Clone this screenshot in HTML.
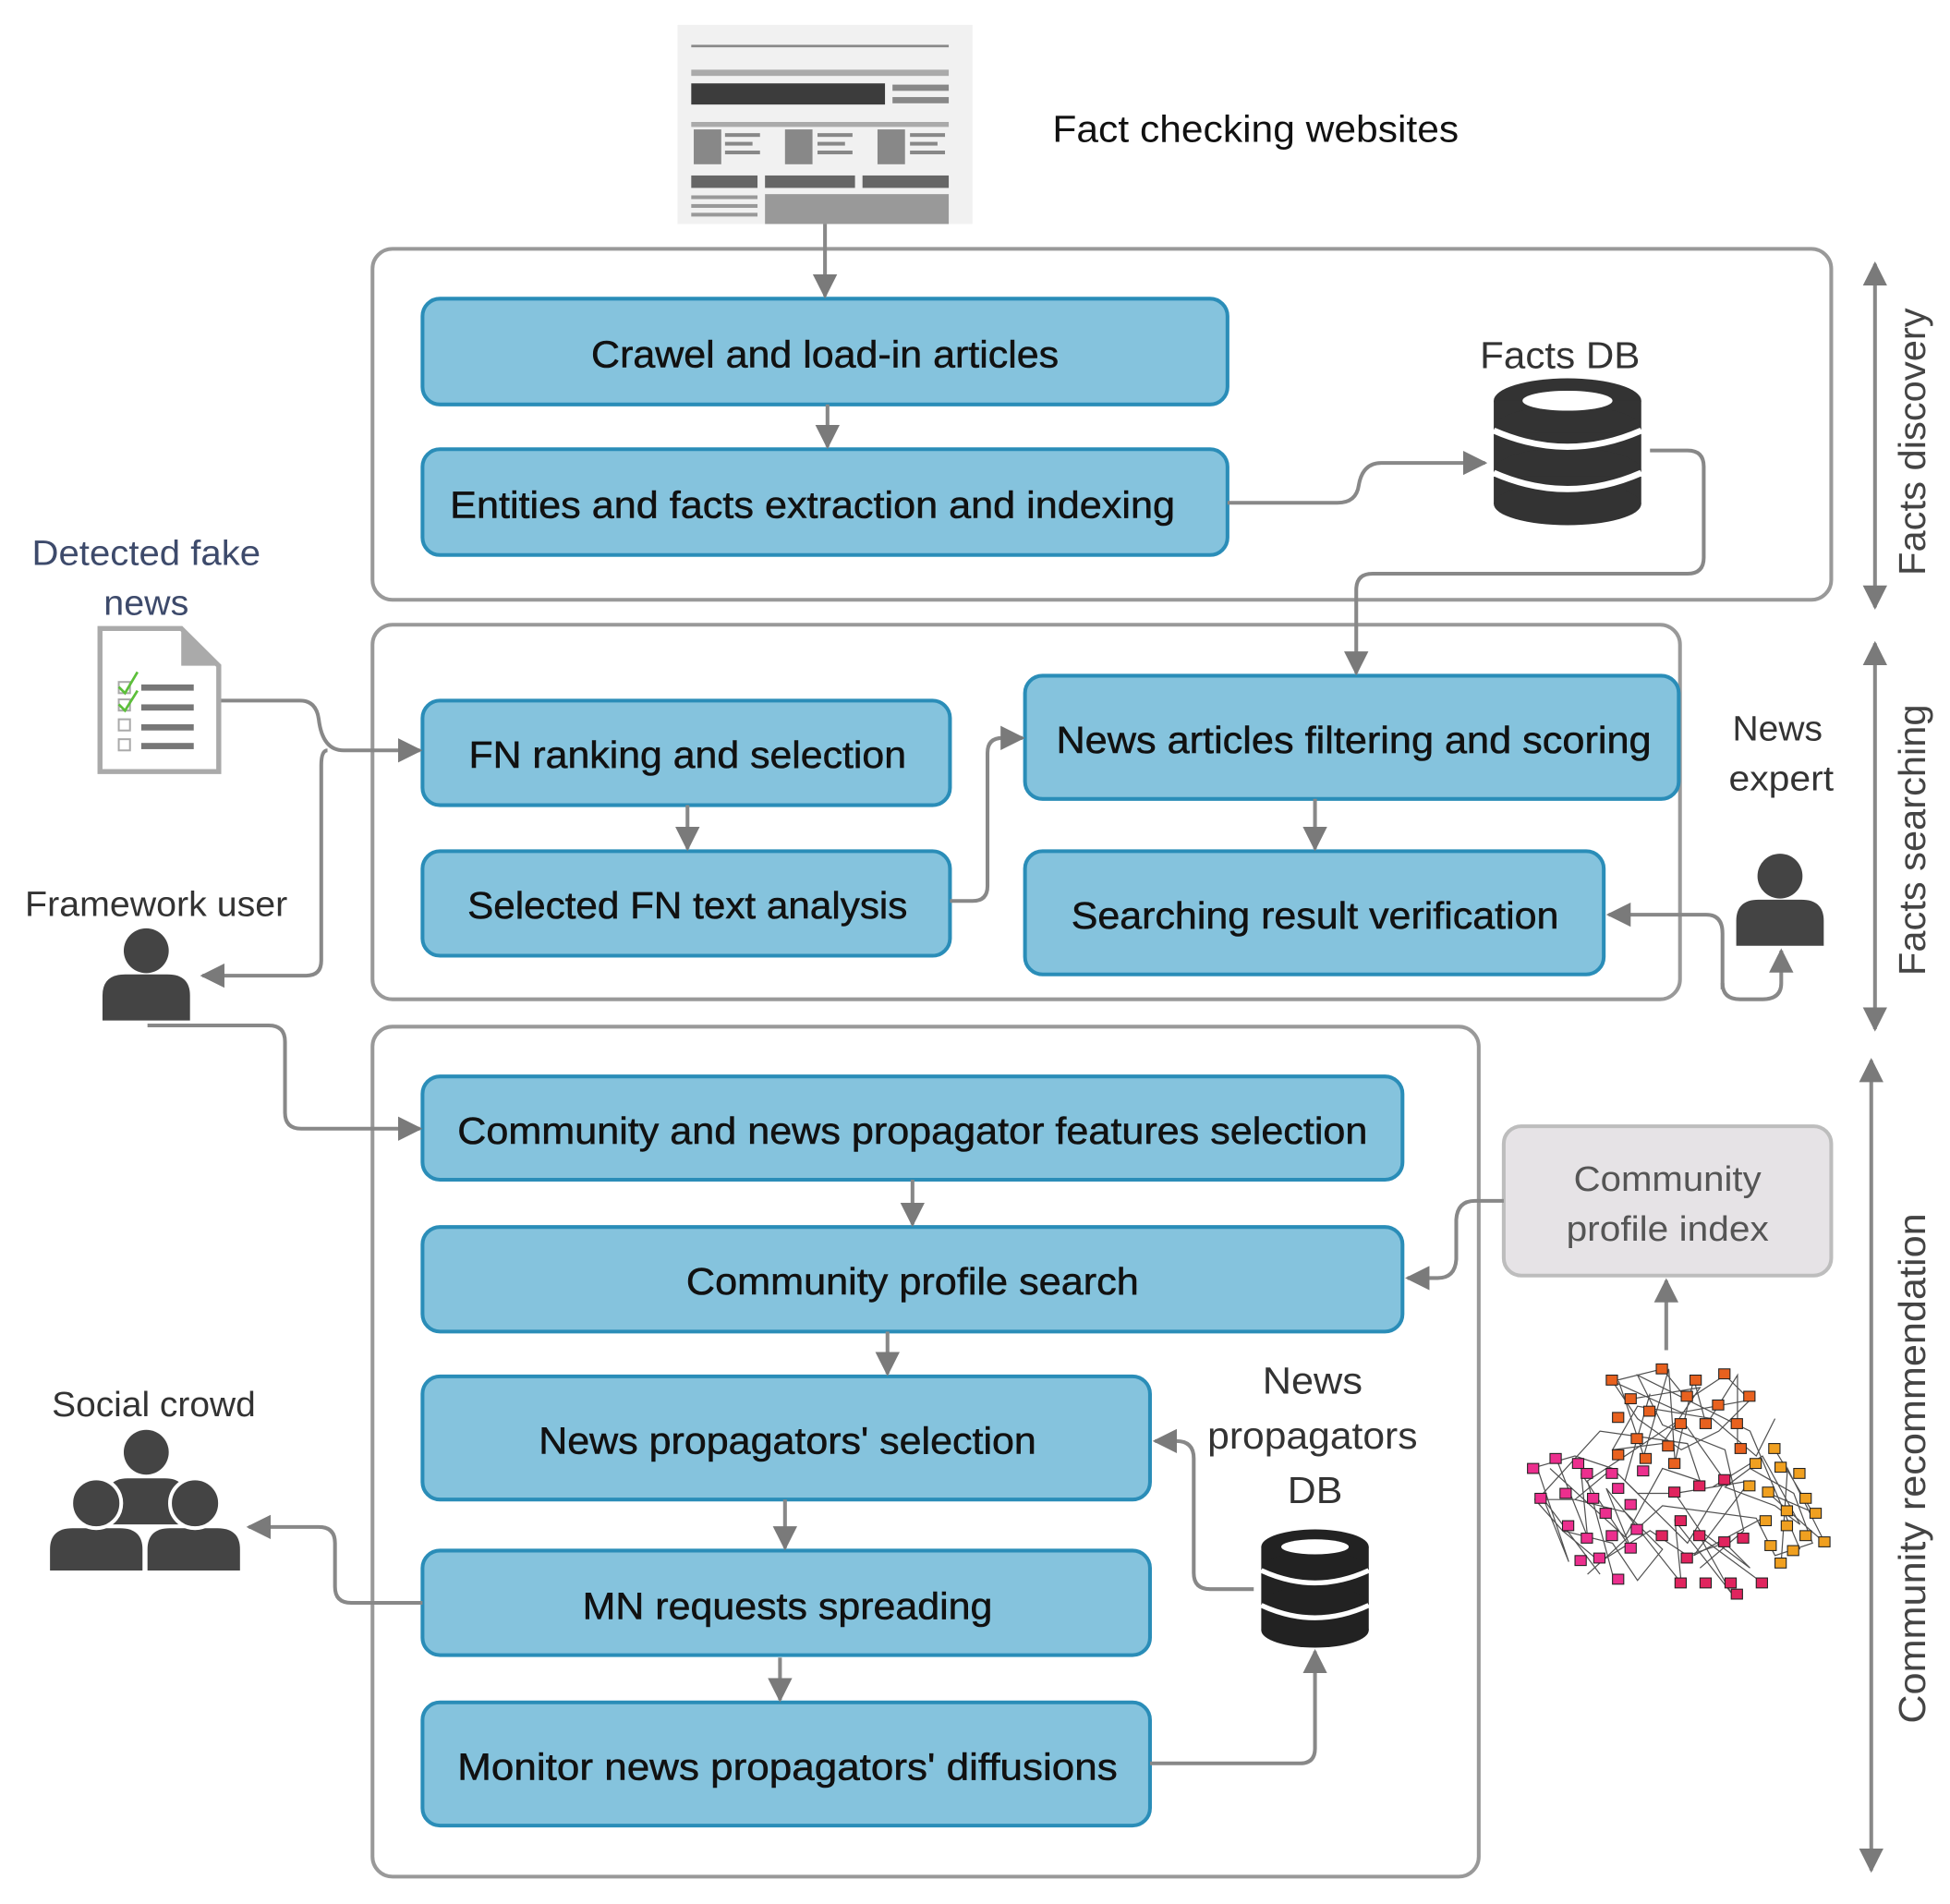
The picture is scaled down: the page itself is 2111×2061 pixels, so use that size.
<!DOCTYPE html>
<html><head><meta charset="utf-8"><style>
html,body{margin:0;padding:0;background:#fff;}
svg{display:block;}
text{font-family:"Liberation Sans",sans-serif;}
</style></head><body>
<svg width="2111" height="2061" viewBox="0 0 1560 1530" preserveAspectRatio="none" xmlns="http://www.w3.org/2000/svg">
<defs>
<marker id="a" viewBox="0 0 10 10" refX="9" refY="5" markerWidth="6.5" markerHeight="6.5" orient="auto-start-reverse" markerUnits="strokeWidth">
<path d="M0,0 L10,5 L0,10 z" fill="#7a7a7a"/></marker>
</defs>
<g fill="none" stroke="#999" stroke-width="3">
<rect x="298" y="200" width="1167" height="282" rx="16"/>
<rect x="298" y="502" width="1046" height="301" rx="16"/>
<rect x="298" y="825" width="885" height="683" rx="16"/>
</g>
<g>
<rect x="542" y="20" width="236" height="160" fill="#f1f1f1"/>
<rect x="553" y="36" width="206" height="2" fill="#888"/>
<rect x="553" y="56" width="206" height="5" fill="#aaa"/>
<rect x="553" y="67" width="155" height="17" fill="#3c3c3c"/>
<rect x="714" y="68" width="45" height="5" fill="#888"/>
<rect x="714" y="78" width="45" height="5" fill="#888"/>
<rect x="553" y="98" width="206" height="4" fill="#aaa"/>
<rect x="555" y="104" width="22" height="28" fill="#888"/>
<rect x="580" y="107" width="28" height="3" fill="#888"/><rect x="580" y="114" width="22" height="3" fill="#888"/><rect x="580" y="121" width="28" height="3" fill="#888"/>
<rect x="628" y="104" width="22" height="28" fill="#888"/>
<rect x="654" y="107" width="28" height="3" fill="#888"/><rect x="654" y="114" width="22" height="3" fill="#888"/><rect x="654" y="121" width="28" height="3" fill="#888"/>
<rect x="702" y="104" width="22" height="28" fill="#888"/>
<rect x="728" y="107" width="28" height="3" fill="#888"/><rect x="728" y="114" width="22" height="3" fill="#888"/><rect x="728" y="121" width="28" height="3" fill="#888"/>
<rect x="553" y="141" width="53" height="10" fill="#666"/><rect x="612" y="141" width="72" height="10" fill="#666"/><rect x="690" y="141" width="69" height="10" fill="#666"/>
<rect x="553" y="157" width="53" height="3" fill="#999"/><rect x="553" y="164" width="53" height="3" fill="#999"/><rect x="553" y="171" width="53" height="3" fill="#999"/>
<rect x="612" y="156" width="147" height="24" fill="#999"/>
</g>
<text x="842" y="114" font-size="30" fill="#111" textLength="325" lengthAdjust="spacingAndGlyphs">Fact checking websites</text>
<g fill="#85c3dd" stroke="#2a8db8" stroke-width="3">
<rect x="338" y="240" width="644" height="85" rx="14"/>
<rect x="338" y="361" width="644" height="85" rx="14"/>
<rect x="338" y="563" width="422" height="84" rx="14"/>
<rect x="338" y="684" width="422" height="84" rx="14"/>
<rect x="820" y="543" width="523" height="99" rx="14"/>
<rect x="820" y="684" width="463" height="99" rx="14"/>
<rect x="338" y="865" width="784" height="83" rx="14"/>
<rect x="338" y="986" width="784" height="84" rx="14"/>
<rect x="338" y="1106" width="582" height="99" rx="14"/>
<rect x="338" y="1246" width="582" height="84" rx="14"/>
<rect x="338" y="1368" width="582" height="99" rx="14"/>
</g>
<g font-size="30" fill="#111" text-anchor="middle" stroke="#111" stroke-width="0.4">
<text x="660" y="295" textLength="374" lengthAdjust="spacingAndGlyphs">Crawel and load-in articles</text>
<text x="650" y="416" textLength="580" lengthAdjust="spacingAndGlyphs">Entities and facts extraction and indexing</text>
<text x="550" y="617" textLength="350" lengthAdjust="spacingAndGlyphs">FN ranking and selection</text>
<text x="550" y="738" textLength="352" lengthAdjust="spacingAndGlyphs">Selected FN text analysis</text>
<text x="1083" y="605" textLength="476" lengthAdjust="spacingAndGlyphs">News articles filtering and scoring</text>
<text x="1052" y="746" textLength="390" lengthAdjust="spacingAndGlyphs">Searching result verification</text>
<text x="730" y="919" textLength="728" lengthAdjust="spacingAndGlyphs">Community and news propagator features selection</text>
<text x="730" y="1040" textLength="362" lengthAdjust="spacingAndGlyphs">Community profile search</text>
<text x="630" y="1168" textLength="398" lengthAdjust="spacingAndGlyphs">News propagators' selection</text>
<text x="630" y="1301" textLength="328" lengthAdjust="spacingAndGlyphs">MN requests spreading</text>
<text x="630" y="1430" textLength="528" lengthAdjust="spacingAndGlyphs">Monitor news propagators' diffusions</text>
</g>
<rect x="1203" y="905" width="262" height="120" rx="14" fill="#e6e3e6" stroke="#bdbdbd" stroke-width="3"/>
<text x="1334" y="957" font-size="28" fill="#555" text-anchor="middle" textLength="150" lengthAdjust="spacingAndGlyphs">Community</text>
<text x="1334" y="997" font-size="28" fill="#555" text-anchor="middle" textLength="162" lengthAdjust="spacingAndGlyphs">profile index</text>
<text x="1248" y="296" font-size="30" fill="#333" text-anchor="middle" textLength="128" lengthAdjust="spacingAndGlyphs">Facts DB</text>
<text x="117" y="454" font-size="28" fill="#3d4a6b" text-anchor="middle" textLength="183" lengthAdjust="spacingAndGlyphs">Detected fake</text>
<text x="117" y="494" font-size="28" fill="#3d4a6b" text-anchor="middle" textLength="68" lengthAdjust="spacingAndGlyphs">news</text>
<text x="125" y="736" font-size="28" fill="#333" text-anchor="middle" textLength="210" lengthAdjust="spacingAndGlyphs">Framework user</text>
<text x="1422" y="595" font-size="28" fill="#333" text-anchor="middle" textLength="72" lengthAdjust="spacingAndGlyphs">News</text>
<text x="1425" y="635" font-size="28" fill="#333" text-anchor="middle" textLength="84" lengthAdjust="spacingAndGlyphs">expert</text>
<text x="123" y="1138" font-size="28" fill="#333" text-anchor="middle" textLength="163" lengthAdjust="spacingAndGlyphs">Social crowd</text>
<text x="1050" y="1120" font-size="30" fill="#333" text-anchor="middle" textLength="80" lengthAdjust="spacingAndGlyphs">News</text>
<text x="1050" y="1164" font-size="30" fill="#333" text-anchor="middle" textLength="168" lengthAdjust="spacingAndGlyphs">propagators</text>
<text x="1052" y="1208" font-size="30" fill="#333" text-anchor="middle" textLength="44" lengthAdjust="spacingAndGlyphs">DB</text>
<g font-size="30" fill="#444" text-anchor="middle">
<text transform="translate(1540,355) rotate(-90)" textLength="215" lengthAdjust="spacingAndGlyphs">Facts discovery</text>
<text transform="translate(1540,675) rotate(-90)" textLength="218" lengthAdjust="spacingAndGlyphs">Facts searching</text>
<text transform="translate(1540,1180) rotate(-90)" textLength="410" lengthAdjust="spacingAndGlyphs">Community recommendation</text>
</g>
<g fill="none" stroke="#888" stroke-width="3" marker-end="url(#a)">
<path d="M660,180 V238"/>
<path d="M662,325 V359"/>
<path d="M982,404 H1070 Q1085,404 1087,390 Q1090,372 1105,372 H1188"/>
<path d="M1320,362 H1350 Q1363,362 1363,375 V448 Q1363,461 1350,461 H1098 Q1085,461 1085,474 V541"/>
<path d="M550,647 V682"/>
<path d="M1052,642 V682"/>
<path d="M760,724 H778 Q790,724 790,712 V605 Q790,593 802,593 H818"/>
<path d="M175,563 H240 Q253,563 255,578 Q258,603 275,603 H336"/>
<path d="M262,603 Q257,603 257,615 V772 Q257,784 245,784 H162"/>
<path d="M118,824 H215 Q228,824 228,837 V894 Q228,907 241,907 H336"/>
<path d="M1378,795 V750 Q1378,735 1365,735 H1287"/>
<path d="M1378,790 Q1378,803 1392,803 H1410 Q1425,803 1425,790 V764"/>
<path d="M730,948 V984"/>
<path d="M710,1070 V1104"/>
<path d="M628,1205 V1244"/>
<path d="M624,1332 V1366"/>
<path d="M1203,965 H1180 Q1166,965 1165,980 V1012 Q1164,1027 1150,1027 H1126"/>
<path d="M1333,1085 V1029"/>
<path d="M1003,1277 H968 Q955,1277 955,1264 V1172 Q955,1158 941,1158 H924"/>
<path d="M920,1417 H1040 Q1052,1417 1052,1405 V1327"/>
<path d="M338,1288 H281 Q268,1288 268,1275 V1240 Q268,1227 255,1227 H199"/>
</g>
<g fill="none" stroke="#888" stroke-width="3" marker-end="url(#a)" marker-start="url(#a)">
<path d="M1500,212 V488"/>
<path d="M1500,517 V827"/>
<path d="M1497,852 V1503"/>
</g>
<g fill="#333">
<ellipse cx="1254" cy="322" rx="59" ry="18"/>
<rect x="1195" y="322" width="118" height="22"/>
<ellipse cx="1254" cy="344" rx="59" ry="18"/>
<rect x="1195" y="348" width="118" height="30"/>
<ellipse cx="1254" cy="378" rx="59" ry="18"/>
<rect x="1195" y="383" width="118" height="22"/>
<ellipse cx="1254" cy="405" rx="59" ry="17"/>
</g>
<ellipse cx="1254" cy="322" rx="36" ry="8" fill="#fff"/>
<path d="M1195,346 Q1254,372 1313,346" stroke="#fff" stroke-width="5" fill="none"/>
<path d="M1195,380 Q1254,406 1313,380" stroke="#fff" stroke-width="5" fill="none"/>
<g fill="#222">
<ellipse cx="1052" cy="1243" rx="43" ry="14"/>
<rect x="1009" y="1243" width="86" height="18"/>
<ellipse cx="1052" cy="1261" rx="43" ry="14"/>
<rect x="1009" y="1264" width="86" height="25"/>
<ellipse cx="1052" cy="1289" rx="43" ry="14"/>
<rect x="1009" y="1292" width="86" height="18"/>
<ellipse cx="1052" cy="1310" rx="43" ry="14"/>
</g>
<ellipse cx="1052" cy="1243" rx="27" ry="6" fill="#fff"/>
<path d="M1009,1262 Q1052,1282 1095,1262" stroke="#fff" stroke-width="4" fill="none"/>
<path d="M1009,1290 Q1052,1310 1095,1290" stroke="#fff" stroke-width="4" fill="none"/>
<path d="M80,505 H145 L175,535 V620 H80 Z" fill="#fff" stroke="#aaa" stroke-width="4"/>
<path d="M145,505 V535 H175 Z" fill="#aaa"/>
<g fill="#777"><rect x="113" y="550" width="42" height="5"/><rect x="113" y="566" width="42" height="5"/><rect x="113" y="582" width="42" height="5"/><rect x="113" y="597" width="42" height="5"/></g>
<g fill="none" stroke="#aaa" stroke-width="1.5"><rect x="95" y="578" width="9" height="9"/><rect x="95" y="594" width="9" height="9"/><rect x="95" y="562" width="9" height="9"/><rect x="95" y="548" width="9" height="9"/></g>
<path d="M95,552 L100,557 L110,540 M95,566 L100,571 L110,555" stroke="#5cbf3a" stroke-width="2" fill="none"/>
<g fill="#444">
<circle cx="117" cy="764" r="18"/><path d="M82,820 V800 Q82,783 100,783 H134 Q152,783 152,800 V820 Z"/>
<circle cx="1424" cy="704" r="18"/><path d="M1389,760 V740 Q1389,723 1407,723 H1441 Q1459,723 1459,740 V760 Z"/>
<circle cx="117" cy="1167" r="18"/>
<path d="M85,1225 V1205 Q85,1188 102,1188 H132 Q149,1188 149,1205 V1225 Z"/>
<circle cx="77" cy="1208" r="19"/><path d="M40,1262 V1245 Q40,1228 58,1228 H96 Q114,1228 114,1245 V1262 Z"/>
<circle cx="156" cy="1208" r="19"/><path d="M118,1262 V1245 Q118,1228 136,1228 H174 Q192,1228 192,1245 V1262 Z"/>
</g>
<g fill="none" stroke="#fff" stroke-width="3"><circle cx="77" cy="1208" r="20"/><circle cx="156" cy="1208" r="20"/></g>
<g stroke="#333" stroke-width="0.9" fill="none" opacity="0.85">
<path d="M1290,1110 L1330,1100 L1350,1125 L1380,1105 L1400,1125 L1375,1150 L1345,1165 L1310,1140 L1290,1110 L1345,1135 L1400,1125 M1300,1125 L1360,1115 L1330,1160 L1290,1165 L1310,1130 L1370,1140 L1405,1170 L1420,1140"/>
<path d="M1225,1180 L1260,1170 L1290,1180 L1260,1205 L1228,1205 L1250,1230 L1290,1240 L1310,1270 L1330,1245 L1300,1215 L1260,1205 L1290,1180 L1310,1200 L1340,1200 L1360,1230 L1400,1260 L1380,1240 L1350,1250 L1320,1230 L1280,1255 L1250,1230"/>
<path d="M1240,1180 L1300,1235 L1330,1180 L1360,1190 L1350,1160 L1280,1150 L1230,1205 M1270,1265 L1330,1210 L1405,1220 L1420,1250 L1450,1240 L1435,1200 L1400,1180 L1380,1195 L1420,1210 L1440,1225 L1410,1170 L1370,1195"/>
<path d="M1320,1120 L1300,1190 L1350,1240 L1380,1190 L1345,1140 L1270,1190 L1290,1265 M1360,1260 L1395,1230 L1380,1165 L1330,1145 L1310,1105 L1400,1150 L1440,1245"/>
<path d="M1295,1110 L1315,1170 L1335,1100 L1340,1175 L1355,1108 L1365,1145 L1390,1105 L1390,1165 M1245,1172 L1270,1235 L1265,1184 L1305,1245 L1285,1196 L1345,1272 L1340,1222 L1385,1280 L1360,1235 L1410,1272 M1230,1180 L1255,1255 L1235,1205 L1280,1265 M1420,1165 L1450,1215 L1415,1200 L1460,1240 L1430,1180 L1425,1255 M1340,1200 L1400,1190 L1355,1250 L1410,1220"/>
</g>
<g stroke="#222" stroke-width="0.8">
<g fill="#e8611f">
<rect x="1285" y="1105" width="9" height="8"/><rect x="1325" y="1096" width="9" height="8"/><rect x="1345" y="1118" width="9" height="8"/><rect x="1375" y="1100" width="9" height="8"/><rect x="1395" y="1118" width="9" height="8"/><rect x="1300" y="1120" width="9" height="8"/><rect x="1290" y="1135" width="9" height="8"/><rect x="1315" y="1130" width="9" height="8"/><rect x="1340" y="1140" width="9" height="8"/><rect x="1360" y="1140" width="9" height="8"/><rect x="1370" y="1125" width="9" height="8"/><rect x="1385" y="1140" width="9" height="8"/><rect x="1305" y="1152" width="9" height="8"/><rect x="1330" y="1158" width="9" height="8"/><rect x="1290" y="1165" width="9" height="8"/><rect x="1312" y="1168" width="9" height="8"/><rect x="1388" y="1160" width="9" height="8"/><rect x="1352" y="1105" width="9" height="8"/><rect x="1335" y="1172" width="9" height="8"/></g>
<g fill="#ec2f8e">
<rect x="1222" y="1176" width="9" height="8"/><rect x="1240" y="1168" width="9" height="8"/><rect x="1258" y="1172" width="9" height="8"/><rect x="1265" y="1180" width="9" height="8"/><rect x="1228" y="1200" width="9" height="8"/><rect x="1248" y="1196" width="9" height="8"/><rect x="1270" y="1200" width="9" height="8"/><rect x="1290" y="1192" width="9" height="8"/><rect x="1280" y="1212" width="9" height="8"/><rect x="1300" y="1205" width="9" height="8"/><rect x="1250" y="1222" width="9" height="8"/><rect x="1265" y="1232" width="9" height="8"/><rect x="1285" y="1230" width="9" height="8"/><rect x="1305" y="1225" width="9" height="8"/><rect x="1275" y="1248" width="9" height="8"/><rect x="1300" y="1240" width="9" height="8"/><rect x="1260" y="1250" width="9" height="8"/><rect x="1290" y="1265" width="9" height="8"/><rect x="1310" y="1178" width="9" height="8"/><rect x="1285" y="1180" width="9" height="8"/></g>
<g fill="#e0245e">
<rect x="1335" y="1195" width="9" height="8"/><rect x="1355" y="1190" width="9" height="8"/><rect x="1340" y="1218" width="9" height="8"/><rect x="1325" y="1230" width="9" height="8"/><rect x="1355" y="1230" width="9" height="8"/><rect x="1375" y="1235" width="9" height="8"/><rect x="1390" y="1232" width="9" height="8"/><rect x="1345" y="1248" width="9" height="8"/><rect x="1340" y="1268" width="9" height="8"/><rect x="1360" y="1268" width="9" height="8"/><rect x="1380" y="1268" width="9" height="8"/><rect x="1405" y="1268" width="9" height="8"/><rect x="1385" y="1277" width="9" height="8"/><rect x="1375" y="1185" width="9" height="8"/></g>
<g fill="#f0a020">
<rect x="1415" y="1160" width="9" height="8"/><rect x="1400" y="1172" width="9" height="8"/><rect x="1420" y="1175" width="9" height="8"/><rect x="1435" y="1180" width="9" height="8"/><rect x="1395" y="1190" width="9" height="8"/><rect x="1410" y="1195" width="9" height="8"/><rect x="1440" y="1200" width="9" height="8"/><rect x="1425" y="1210" width="9" height="8"/><rect x="1448" y="1212" width="9" height="8"/><rect x="1425" y="1222" width="9" height="8"/><rect x="1440" y="1230" width="9" height="8"/><rect x="1412" y="1238" width="9" height="8"/><rect x="1430" y="1242" width="9" height="8"/><rect x="1455" y="1235" width="9" height="8"/><rect x="1420" y="1252" width="9" height="8"/><rect x="1408" y="1218" width="9" height="8"/></g>
</g>
</svg>
</body></html>
